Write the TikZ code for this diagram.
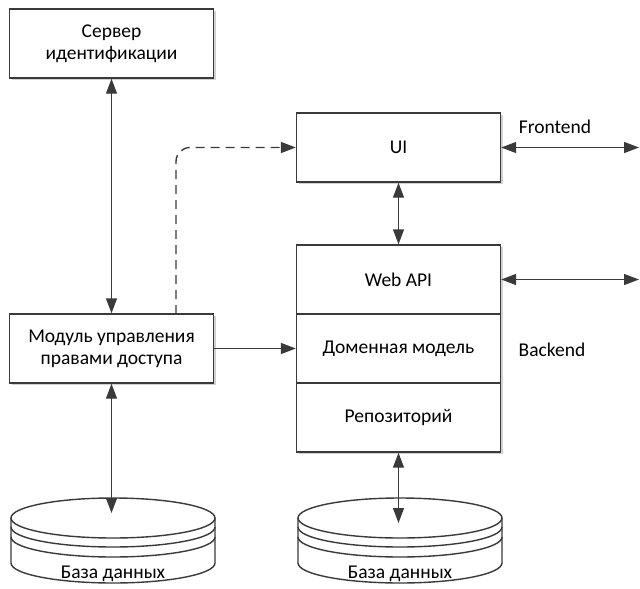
\documentclass[tikz,border=0pt]{standalone}
\usepackage{fontspec}
\setmainfont{Carlito}
\usetikzlibrary{arrows.meta,shadows}
\definecolor{lc}{HTML}{3A3A3A}
\begin{document}
\begin{tikzpicture}[x=1pt,y=-1pt,
  font=\fontsize{19.5}{22}\selectfont,
  box/.style={draw=lc, line width=1.4pt, fill=white, minimum width=204pt, minimum height=69pt, inner sep=0pt, align=center,
    drop shadow={shadow xshift=2pt, shadow yshift=-2pt, fill=black!18, opacity=1}},
  conn/.style={draw=lc, line width=1.4pt},
  both/.style={conn, {Triangle[length=15pt,width=11pt]}-{Triangle[length=15pt,width=11pt]}},
  one/.style={conn, -{Triangle[length=15pt,width=11pt]}},
  cyl/.style={draw=lc, line width=1.4pt},
  dbcyl/.pic={
    \draw[cyl, fill=white] (-102,0) -- (-102,45) arc[start angle=180,end angle=0,x radius=102,y radius=20] -- (102,0);
    \draw[cyl, fill=white] (0,0) ellipse[x radius=102,y radius=20];
    \draw[cyl] (-102,9) arc[start angle=180,end angle=0,x radius=102,y radius=20];
    \draw[cyl] (-102,19) arc[start angle=180,end angle=0,x radius=102,y radius=20];
    \node at (0,56) {База данных};
  }]
\useasboundingbox (0,0) rectangle (640,589);

\node[box] (server) at (111.5,43.5) {Сервер\\идентификации};
\node[box] (modul) at (111.5,348.5) {Модуль управления\\правами доступа};
\node[box] (ui) at (398.5,147.5) {UI};
\node[box] (webapi) at (398.5,279.5) {Web API};
\node[box] (domain) at (398.5,348.5) {Доменная модель};
\node[box] (repo) at (398.5,417.5) {Репозиторий};

\pic at (113,518) {dbcyl};
\pic at (400,518) {dbcyl};

\node (frontend) at (555,127) {Frontend};
\node (backend) at (552,350) {Backend};

\coordinate (db1) at (111.5,513);
\coordinate (db2) at (398.5,523);
\coordinate (fe) at (639,147.5);
\coordinate (be) at (639,279.5);
\coordinate (dstart) at (176,314);

\draw[both] (server.south) -- (modul.north);
\draw[both] (modul.south) -- (db1);
\draw[one] (modul.east) -- (domain.west);
\draw[one, dash pattern=on 9pt off 6pt, rounded corners=14pt] (dstart) |- (ui.west);
\draw[both] (ui.south) -- (webapi.north);
\draw[both] (repo.south) -- (db2);
\draw[both] (ui.east) -- (fe);
\draw[both] (webapi.east) -- (be);
\end{tikzpicture}
\end{document}
